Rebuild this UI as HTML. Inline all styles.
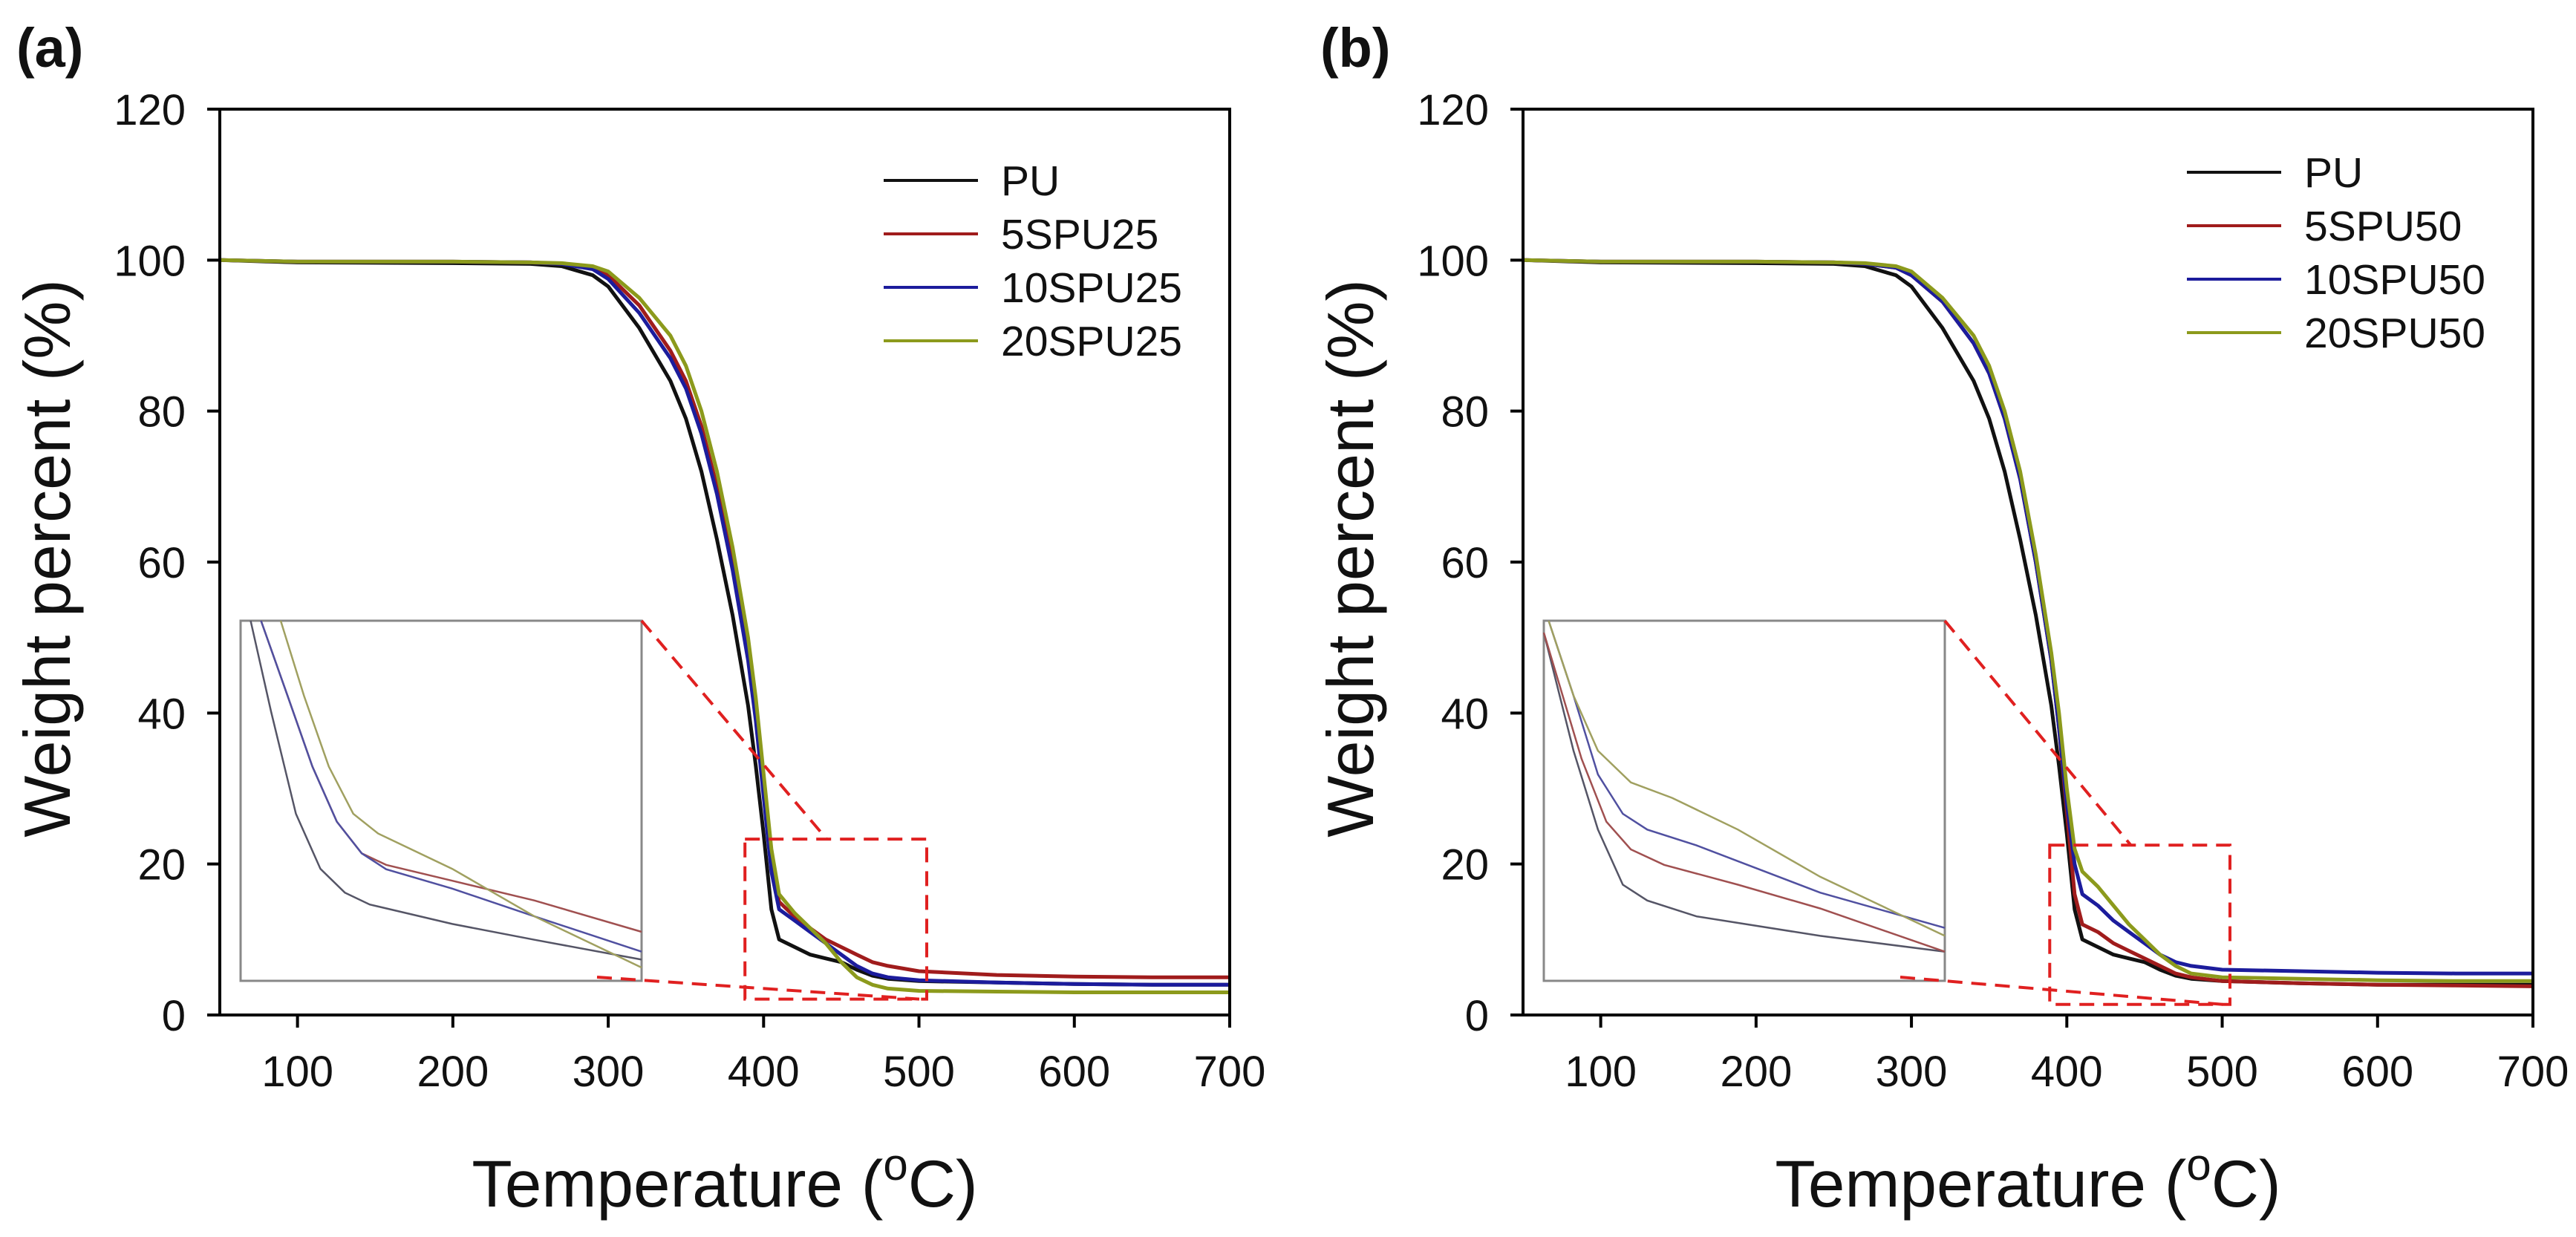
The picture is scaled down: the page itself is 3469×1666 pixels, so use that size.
<!DOCTYPE html>
<html><head><meta charset="utf-8"><style>
html,body{margin:0;padding:0;background:#fff;}
svg{display:block;font-family:"Liberation Sans",Arial,sans-serif;}
</style></head><body>
<svg id="fig" width="3469" height="1666" viewBox="0 0 3469 1666" xmlns="http://www.w3.org/2000/svg"></svg>
<script>
// ---- data ----
const temps = [50,100,200,250,270,290,300,320,340,350,360,370,380,390,395,400,405,410,420,430,440,450,460,470,480,500,550,600,650,700];
const puA    = [100,99.7,99.6,99.5,99.2,98,96.5,91,84,79,72,63,53,41,33,24,14,10,9,8,7.5,7,6,5.2,4.8,4.5,4.3,4.1,4,4];
const s5A    = [100,99.8,99.8,99.7,99.5,99,98,94,88,84,78,70,60,48,40,30,20,15,13,11.5,10,9,8,7,6.5,5.8,5.3,5.1,5,5];
const s10A   = [100,99.8,99.8,99.7,99.5,98.8,97.5,93,87,83,77,69,59,47,39,29,19,14,12.5,11,9.5,8,6.5,5.5,5,4.6,4.3,4.1,4,4];
const s20A   = [100,99.8,99.8,99.7,99.6,99.2,98.5,95,90,86,80,72,62,50,42,32,22,16,13.5,11.5,9.5,7,5,4,3.5,3.2,3.1,3,3,3];
const puB    = [100,99.7,99.6,99.5,99.2,98,96.5,91,84,79,72,63,53,41,33,24,14,10,9,8,7.5,7,6,5.2,4.8,4.5,4.2,4,4,4];
const s5B    = [100,99.8,99.8,99.7,99.5,99,98,94.5,89,85,79,71,60,47,38,27,16,12,11,9.5,8.5,7.5,6.5,5.5,5,4.5,4.2,4,3.9,3.8];
const s10B   = [100,99.8,99.8,99.7,99.5,99,98,94.5,89,85,79,71,60,47,38,28,20,16,14.5,12.5,11,9.5,8,7,6.5,6,5.8,5.6,5.5,5.5];
const s20B   = [100,99.8,99.8,99.7,99.6,99.2,98.5,95,90,86,80,72,61,48,40,30,22,19,17,14.5,12,10,8,6.5,5.5,5,4.8,4.6,4.5,4.5];
// inset curves (normalized 0-100 inset coordinates)
const insX_puA=[2.5,7.6,13.8,19.9,26,32.2,52.8,73.3,100], insY_puA=[100,74.8,46.4,31.1,24.5,21.2,15.8,11.4,5.9];
const insX_s5A=[5.1,11.7,17.9,24,30.2,36.3,52.8,73.3,100], insY_s5A=[100,79.2,59.5,44.2,35.4,32.2,27.8,22.3,13.6];
const insX_s10A=[5.1,11.7,17.9,24,30.2,36.3,52.8,73.3,100], insY_s10A=[100,79.2,59.5,44.2,35.4,31,25.6,17.9,8.1];
const insX_s20A=[10,15.8,22,28.1,34.3,52.8,73.3,100], insY_s20A=[100,79.2,59.5,46.4,40.9,31.1,17.9,3.7];
const insX_puB=[0,7.4,13.5,19.7,25.8,38.1,68.9,100], insY_puB=[96.7,63.9,42,26.7,22.3,17.9,12.5,8.1];
const insX_s5B=[0,9.4,15.6,21.7,30,48.4,68.9,100], insY_s5B=[96.7,61.7,44.2,36.5,32.2,26.7,20.1,8.1];
const insX_s10B=[1.2,7.4,13.5,19.7,25.8,38.1,68.9,100], insY_s10B=[100,79.2,57.3,46.4,42,37.6,24.5,14.7];
const insX_s20B=[1.2,7.4,13.5,21.7,32,48.4,68.9,100], insY_s20B=[100,79.2,63.9,55.1,50.8,42,28.9,12.5];
const xTicks=[100,200,300,400,500,600,700];
const yTicks=[0,20,40,60,80,100,120];
const namesA=["PU","5SPU25","10SPU25","20SPU25"];
const namesB=["PU","5SPU50","10SPU50","20SPU50"];
const colors=["#111111","#a01c1c","#1c1c9c","#8c9a1c"];
const insColors=["#555566","#a05050","#5050a0","#a0a060"];

const NS="http://www.w3.org/2000/svg";
const svg=document.getElementById('fig');
function mk(tag,attrs,parent){const e=document.createElementNS(NS,tag);for(const k in attrs)e.setAttribute(k,attrs[k]);(parent||svg).appendChild(e);return e;}

function panel(cfg){
  const g=mk('g',{});
  
  
  const L=cfg.left,R=cfg.left+1360,T=147,B=1367;
  const sx=v=>L+(v-50)/650*(R-L);
  const sy=v=>B-v/120*(B-T);
  cfg.series.forEach((s,i)=>{
    const d=temps.map((t,j)=>(j?'L':'M')+sx(t).toFixed(1)+' '+sy(s[j]).toFixed(1)).join(' ');
    const p=mk('path',{d:d,fill:'none',stroke:colors[i],'stroke-width':5,'stroke-linejoin':'round'},g);
    
    
  });
  const fr=mk('rect',{x:L,y:T,width:R-L,height:B-T,fill:'none',stroke:'#000','stroke-width':4},g);
  
  
  xTicks.forEach(v=>{
    mk('line',{x1:sx(v),x2:sx(v),y1:B,y2:B+17,stroke:'#000','stroke-width':4},g);
    const t=mk('text',{x:sx(v),y:1463,'font-size':58,'text-anchor':'middle',fill:'#111'},g);
    t.textContent=v;
    
    
  });
  yTicks.forEach(v=>{
    mk('line',{x1:L-17,x2:L,y1:sy(v),y2:sy(v),stroke:'#000','stroke-width':4},g);
    const t=mk('text',{x:L-46,y:sy(v)+21,'font-size':58,'text-anchor':'end',fill:'#111'},g);
    t.textContent=v;
    
    
  });
  const iL=L+28,iR=L+568,iT=836,iB=1321;
  const ib=mk('rect',{x:iL,y:iT,width:iR-iL,height:iB-iT,fill:'#fff',stroke:'#888','stroke-width':3},g);
  
  
  cfg.inset.forEach((c,i)=>{
    const d=c[0].map((x,j)=>(j?'L':'M')+(iL+x/100*(iR-iL)).toFixed(1)+' '+(iB-c[1][j]/100*(iB-iT)).toFixed(1)).join(' ');
    const p=mk('path',{d:d,fill:'none',stroke:insColors[i],'stroke-width':2.5},g);
    
    
  });
  const bx1=sx(cfg.box[0]),bx2=sx(cfg.box[1]),by1=sy(cfg.box[3]),by2=sy(cfg.box[2]);
  const zb=mk('rect',{x:bx1,y:by1,width:bx2-bx1,height:by2-by1,fill:'none',stroke:'#e02020','stroke-width':4,'stroke-dasharray':'20 12'},g);
  
  
  const l1=mk('line',{x1:iR,y1:iT,x2:bx1+(bx2-bx1)*0.45,y2:by1,stroke:'#e02020','stroke-width':4,'stroke-dasharray':'20 12'},g);
  
  
  const l2=mk('line',{x1:iR-60,y1:iB-5,x2:bx2-10,y2:by2,stroke:'#e02020','stroke-width':4,'stroke-dasharray':'20 12'},g);
  
  
  cfg.names.forEach((n,i)=>{
    const y=cfg.legY+i*72;
    const ln=mk('line',{x1:cfg.legX,x2:cfg.legX+127,y1:y,y2:y,stroke:colors[i],'stroke-width':4},g);
    
    
    const t=mk('text',{x:cfg.legX+158,y:y+20,'font-size':57,fill:'#111'},g);
    t.textContent=n;
    
    
  });
  const yt=mk('text',{x:0,y:0,'font-size':88,'text-anchor':'middle',fill:'#111',transform:'translate('+(cfg.left-202)+',752) rotate(-90)'},g);
  yt.textContent='Weight percent (%)';
  
  
  const xt=mk('text',{x:L+680,y:1625,'font-size':89,'text-anchor':'middle',fill:'#111'},g);
  xt.innerHTML='Temperature (<tspan font-size="60" dy="-36">o</tspan><tspan dy="36">C)</tspan>';
  
  
  const pl=mk('text',{x:cfg.labX,y:90,'font-size':74,'font-weight':'bold',fill:'#111'},g);
  pl.textContent=cfg.label;
  
  
}
panel({id:'panel-a',left:296,series:[puA,s5A,s10A,s20A],names:namesA,
  inset:[[insX_puA,insY_puA],[insX_s5A,insY_s5A],[insX_s10A,insY_s10A],[insX_s20A,insY_s20A]],
  box:[388,505,2.1,23.3],legX:1190,legY:243,labX:22,label:'(a)'});
panel({id:'panel-b',left:2051,series:[puB,s5B,s10B,s20B],names:namesB,
  inset:[[insX_puB,insY_puB],[insX_s5B,insY_s5B],[insX_s10B,insY_s10B],[insX_s20B,insY_s20B]],
  box:[389,505,1.4,22.5],legX:2945,legY:232,labX:1778,label:'(b)'});
</script>
</body></html>
